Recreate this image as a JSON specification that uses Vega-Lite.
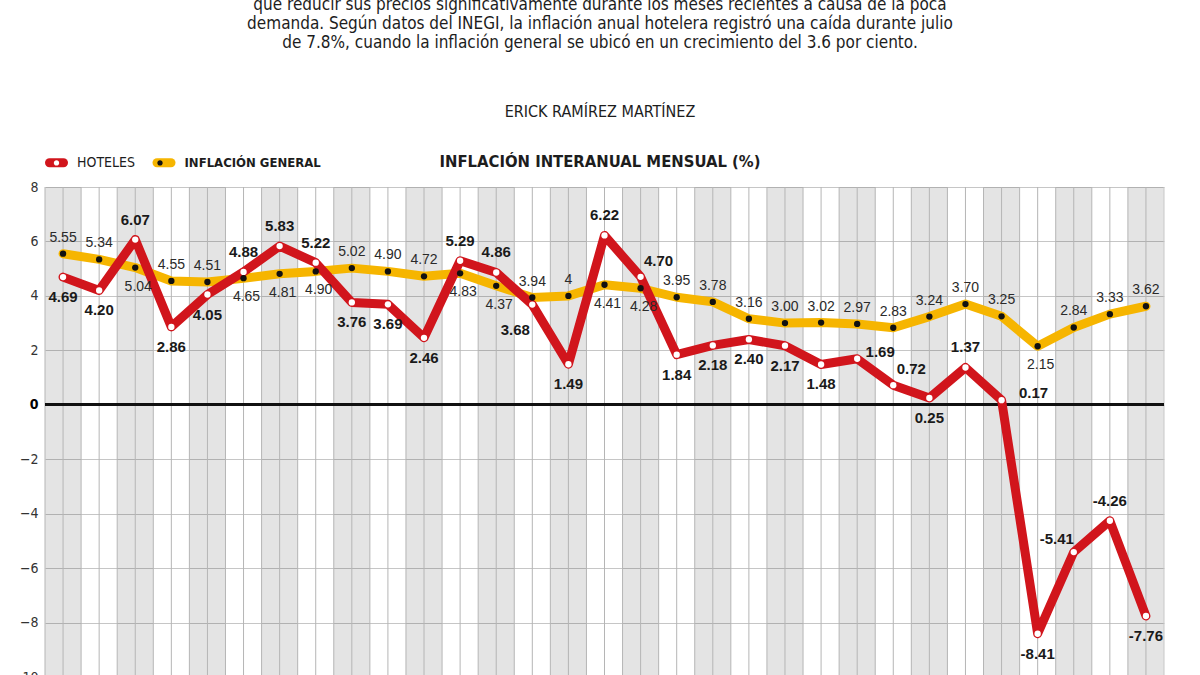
{
  "$schema": "https://vega.github.io/schema/vega-lite/v6.json",
  "width": 1119,
  "height": 490,
  "autosize": {"type": "none"},
  "padding": {"left": 45, "top": 187, "right": 36, "bottom": 0},
  "background": "#ffffff",
  "title": {
    "text": [
      "que reducir sus precios significativamente durante los meses recientes a causa de la poca",
      "demanda. Según datos del INEGI, la inflación anual hotelera registró una caída durante julio",
      "de 7.8%, cuando la inflación general se ubicó en un crecimiento del 3.6 por ciento."
    ],
    "subtitle": "ERICK RAMÍREZ MARTÍNEZ",
    "anchor": "middle",
    "frame": "group",
    "dx": -4.5,
    "offset": 30,
    "font": "DejaVu Sans Condensed",
    "fontSize": 17,
    "fontWeight": "normal",
    "color": "#1d1d1d",
    "lineHeight": 19,
    "subtitleFont": "DejaVu Sans Condensed",
    "subtitleFontSize": 16,
    "subtitleColor": "#1d1d1d",
    "subtitlePadding": 52
  },
  "config": {
    "view": {"stroke": null},
    "axisX": {
      "labels": false, "ticks": false, "domain": false, "grid": false,
      "titleFont": "DejaVu Sans Condensed", "titleFontSize": 16.5, "titleFontWeight": "bold",
      "titleColor": "#1d1d1d", "titleX": 554.5, "titleY": -21, "titleAlign": "center", "titleBaseline": "alphabetic"
    },
    "axisY": {
      "grid": true, "gridColor": "#c6c6c6", "gridWidth": 1, "domain": false, "ticks": false,
      "labelPadding": 7, "labelFont": "DejaVu Sans Condensed", "labelFontSize": 14, "labelColor": "#333333",
      "title": null
    }
  },
  "data": {
    "values": [
      {"mes": "2018-01", "serie": "HOTELES", "valor": 4.69, "texto": "4.69"},
      {"mes": "2018-02", "serie": "HOTELES", "valor": 4.20, "texto": "4.20"},
      {"mes": "2018-03", "serie": "HOTELES", "valor": 6.07, "texto": "6.07"},
      {"mes": "2018-04", "serie": "HOTELES", "valor": 2.86, "texto": "2.86"},
      {"mes": "2018-05", "serie": "HOTELES", "valor": 4.05, "texto": "4.05"},
      {"mes": "2018-06", "serie": "HOTELES", "valor": 4.88, "texto": "4.88"},
      {"mes": "2018-07", "serie": "HOTELES", "valor": 5.83, "texto": "5.83"},
      {"mes": "2018-08", "serie": "HOTELES", "valor": 5.22, "texto": "5.22"},
      {"mes": "2018-09", "serie": "HOTELES", "valor": 3.76, "texto": "3.76"},
      {"mes": "2018-10", "serie": "HOTELES", "valor": 3.69, "texto": "3.69"},
      {"mes": "2018-11", "serie": "HOTELES", "valor": 2.46, "texto": "2.46"},
      {"mes": "2018-12", "serie": "HOTELES", "valor": 5.29, "texto": "5.29"},
      {"mes": "2019-01", "serie": "HOTELES", "valor": 4.86, "texto": "4.86"},
      {"mes": "2019-02", "serie": "HOTELES", "valor": 3.68, "texto": "3.68"},
      {"mes": "2019-03", "serie": "HOTELES", "valor": 1.49, "texto": "1.49"},
      {"mes": "2019-04", "serie": "HOTELES", "valor": 6.22, "texto": "6.22"},
      {"mes": "2019-05", "serie": "HOTELES", "valor": 4.70, "texto": "4.70"},
      {"mes": "2019-06", "serie": "HOTELES", "valor": 1.84, "texto": "1.84"},
      {"mes": "2019-07", "serie": "HOTELES", "valor": 2.18, "texto": "2.18"},
      {"mes": "2019-08", "serie": "HOTELES", "valor": 2.40, "texto": "2.40"},
      {"mes": "2019-09", "serie": "HOTELES", "valor": 2.17, "texto": "2.17"},
      {"mes": "2019-10", "serie": "HOTELES", "valor": 1.48, "texto": "1.48"},
      {"mes": "2019-11", "serie": "HOTELES", "valor": 1.69, "texto": "1.69"},
      {"mes": "2019-12", "serie": "HOTELES", "valor": 0.72, "texto": "0.72"},
      {"mes": "2020-01", "serie": "HOTELES", "valor": 0.25, "texto": "0.25"},
      {"mes": "2020-02", "serie": "HOTELES", "valor": 1.37, "texto": "1.37"},
      {"mes": "2020-03", "serie": "HOTELES", "valor": 0.17, "texto": "0.17"},
      {"mes": "2020-04", "serie": "HOTELES", "valor": -8.41, "texto": "-8.41"},
      {"mes": "2020-05", "serie": "HOTELES", "valor": -5.41, "texto": "-5.41"},
      {"mes": "2020-06", "serie": "HOTELES", "valor": -4.26, "texto": "-4.26"},
      {"mes": "2020-07", "serie": "HOTELES", "valor": -7.76, "texto": "-7.76"},
      {"mes": "2018-01", "serie": "INFLACIÓN GENERAL", "valor": 5.55, "texto": "5.55"},
      {"mes": "2018-02", "serie": "INFLACIÓN GENERAL", "valor": 5.34, "texto": "5.34"},
      {"mes": "2018-03", "serie": "INFLACIÓN GENERAL", "valor": 5.04, "texto": "5.04"},
      {"mes": "2018-04", "serie": "INFLACIÓN GENERAL", "valor": 4.55, "texto": "4.55"},
      {"mes": "2018-05", "serie": "INFLACIÓN GENERAL", "valor": 4.51, "texto": "4.51"},
      {"mes": "2018-06", "serie": "INFLACIÓN GENERAL", "valor": 4.65, "texto": "4.65"},
      {"mes": "2018-07", "serie": "INFLACIÓN GENERAL", "valor": 4.81, "texto": "4.81"},
      {"mes": "2018-08", "serie": "INFLACIÓN GENERAL", "valor": 4.90, "texto": "4.90"},
      {"mes": "2018-09", "serie": "INFLACIÓN GENERAL", "valor": 5.02, "texto": "5.02"},
      {"mes": "2018-10", "serie": "INFLACIÓN GENERAL", "valor": 4.90, "texto": "4.90"},
      {"mes": "2018-11", "serie": "INFLACIÓN GENERAL", "valor": 4.72, "texto": "4.72"},
      {"mes": "2018-12", "serie": "INFLACIÓN GENERAL", "valor": 4.83, "texto": "4.83"},
      {"mes": "2019-01", "serie": "INFLACIÓN GENERAL", "valor": 4.37, "texto": "4.37"},
      {"mes": "2019-02", "serie": "INFLACIÓN GENERAL", "valor": 3.94, "texto": "3.94"},
      {"mes": "2019-03", "serie": "INFLACIÓN GENERAL", "valor": 4.00, "texto": "4"},
      {"mes": "2019-04", "serie": "INFLACIÓN GENERAL", "valor": 4.41, "texto": "4.41"},
      {"mes": "2019-05", "serie": "INFLACIÓN GENERAL", "valor": 4.28, "texto": "4.28"},
      {"mes": "2019-06", "serie": "INFLACIÓN GENERAL", "valor": 3.95, "texto": "3.95"},
      {"mes": "2019-07", "serie": "INFLACIÓN GENERAL", "valor": 3.78, "texto": "3.78"},
      {"mes": "2019-08", "serie": "INFLACIÓN GENERAL", "valor": 3.16, "texto": "3.16"},
      {"mes": "2019-09", "serie": "INFLACIÓN GENERAL", "valor": 3.00, "texto": "3.00"},
      {"mes": "2019-10", "serie": "INFLACIÓN GENERAL", "valor": 3.02, "texto": "3.02"},
      {"mes": "2019-11", "serie": "INFLACIÓN GENERAL", "valor": 2.97, "texto": "2.97"},
      {"mes": "2019-12", "serie": "INFLACIÓN GENERAL", "valor": 2.83, "texto": "2.83"},
      {"mes": "2020-01", "serie": "INFLACIÓN GENERAL", "valor": 3.24, "texto": "3.24"},
      {"mes": "2020-02", "serie": "INFLACIÓN GENERAL", "valor": 3.70, "texto": "3.70"},
      {"mes": "2020-03", "serie": "INFLACIÓN GENERAL", "valor": 3.25, "texto": "3.25"},
      {"mes": "2020-04", "serie": "INFLACIÓN GENERAL", "valor": 2.15, "texto": "2.15"},
      {"mes": "2020-05", "serie": "INFLACIÓN GENERAL", "valor": 2.84, "texto": "2.84"},
      {"mes": "2020-06", "serie": "INFLACIÓN GENERAL", "valor": 3.33, "texto": "3.33"},
      {"mes": "2020-07", "serie": "INFLACIÓN GENERAL", "valor": 3.62, "texto": "3.62"}
    ]
  },
  "layer": [
    {
      "transform": [
        {"filter": {"field": "serie", "equal": "HOTELES"}},
        {"filter": {"field": "mes", "oneOf": ["2018-01","2018-03","2018-05","2018-07","2018-09","2018-11","2019-01","2019-03","2019-05","2019-07","2019-09","2019-11","2020-01","2020-03","2020-05","2020-07"]}}
      ],
      "mark": {"type": "rect", "fill": "#000000", "opacity": 0.106},
      "encoding": {
        "x": {"field": "mes", "type": "ordinal", "scale": {"type": "band", "paddingInner": 0, "paddingOuter": 0}, "axis": {"orient": "top"}, "title": "INFLACIÓN INTERANUAL MENSUAL (%)"}
      }
    },
    {
      "transform": [{"filter": {"field": "serie", "equal": "HOTELES"}}],
      "mark": {"type": "rule", "color": "#b5b5b5", "strokeWidth": 1},
      "encoding": {
        "x": {"field": "mes", "type": "ordinal", "bandPosition": 0, "scale": {"type": "band", "paddingInner": 0, "paddingOuter": 0}, "axis": {"orient": "top"}, "title": "INFLACIÓN INTERANUAL MENSUAL (%)"}
      }
    },
    {
      "transform": [{"filter": {"field": "serie", "equal": "HOTELES"}}],
      "mark": {"type": "rule", "color": "#b5b5b5", "strokeWidth": 1},
      "encoding": {
        "x": {"field": "mes", "type": "ordinal", "bandPosition": 0.5, "scale": {"type": "band", "paddingInner": 0, "paddingOuter": 0}, "axis": {"orient": "top"}, "title": "INFLACIÓN INTERANUAL MENSUAL (%)"}
      }
    },
    {
      "transform": [{"filter": {"field": "serie", "equal": "HOTELES"}}, {"filter": {"field": "mes", "equal": "2020-07"}}],
      "mark": {"type": "rule", "color": "#c8c8c8", "strokeWidth": 1},
      "encoding": {
        "x": {"field": "mes", "type": "ordinal", "bandPosition": 1, "scale": {"type": "band", "paddingInner": 0, "paddingOuter": 0}, "axis": {"orient": "top"}, "title": "INFLACIÓN INTERANUAL MENSUAL (%)"}
      }
    },
    {
      "mark": {"type": "rule", "color": "#111111", "strokeWidth": 2.5},
      "encoding": {
        "y": {"datum": 0, "type": "quantitative", "scale": {"domain": [-10, 8], "nice": false, "zero": false}, "axis": {"values": [-10, -8, -6, -4, -2, 0, 2, 4, 6, 8], "labelFontWeight": {"condition": {"test": "datum.value === 0", "value": "bold"}, "value": "normal"}, "labelColor": {"condition": {"test": "datum.value === 0", "value": "#000000"}, "value": "#333333"}}}
      }
    },
    {
      "transform": [{"filter": {"field": "serie", "equal": "INFLACIÓN GENERAL"}}],
      "mark": {"type": "line", "strokeWidth": 9, "strokeJoin": "round", "strokeCap": "round"},
      "encoding": {
        "x": {"field": "mes", "type": "ordinal", "scale": {"type": "band", "paddingInner": 0, "paddingOuter": 0}, "axis": {"orient": "top"}, "title": "INFLACIÓN INTERANUAL MENSUAL (%)"},
        "y": {"field": "valor", "type": "quantitative"},
        "stroke": {
          "field": "serie", "type": "nominal",
          "scale": {"domain": ["HOTELES", "INFLACIÓN GENERAL"], "range": ["#d1151c", "#f6b500"]},
          "legend": {
            "orient": "none", "legendX": 0, "legendY": -36, "direction": "horizontal", "title": null,
            "symbolType": "stroke", "symbolSize": 196, "symbolStrokeWidth": 9,
            "labelFont": "DejaVu Sans Condensed", "labelFontSize": 14, "labelColor": "#1d1d1d",
            "labelOffset": 9, "columnPadding": 2.5, "padding": 0,
            "encode": {
              "symbols": {"update": {"strokeCap": {"value": "round"}}},
              "labels": {"update": {
                "fontWeight": {"signal": "datum.label === 'HOTELES' ? 'normal' : 'bold'"},
                "fontSize": {"signal": "datum.label === 'HOTELES' ? 14 : 13"}
              }}
            }
          }
        }
      }
    },
    {
      "transform": [{"filter": {"field": "serie", "equal": "HOTELES"}}],
      "mark": {"type": "line", "strokeWidth": 9, "strokeJoin": "round", "strokeCap": "round"},
      "encoding": {
        "x": {"field": "mes", "type": "ordinal", "scale": {"type": "band", "paddingInner": 0, "paddingOuter": 0}, "axis": {"orient": "top"}, "title": "INFLACIÓN INTERANUAL MENSUAL (%)"},
        "y": {"field": "valor", "type": "quantitative"},
        "stroke": {
          "field": "serie", "type": "nominal",
          "scale": {"domain": ["HOTELES", "INFLACIÓN GENERAL"], "range": ["#d1151c", "#f6b500"]},
          "legend": {
            "orient": "none", "legendX": 0, "legendY": -36, "direction": "horizontal", "title": null,
            "symbolType": "stroke", "symbolSize": 196, "symbolStrokeWidth": 9,
            "labelFont": "DejaVu Sans Condensed", "labelFontSize": 14, "labelColor": "#1d1d1d",
            "labelOffset": 9, "columnPadding": 2.5, "padding": 0,
            "encode": {
              "symbols": {"update": {"strokeCap": {"value": "round"}}},
              "labels": {"update": {
                "fontWeight": {"signal": "datum.label === 'HOTELES' ? 'normal' : 'bold'"},
                "fontSize": {"signal": "datum.label === 'HOTELES' ? 14 : 13"}
              }}
            }
          }
        }
      }
    },
    {
      "mark": {"type": "circle", "size": 40, "opacity": 1},
      "encoding": {
        "x": {"field": "mes", "type": "ordinal", "scale": {"type": "band", "paddingInner": 0, "paddingOuter": 0}, "axis": {"orient": "top"}, "title": "INFLACIÓN INTERANUAL MENSUAL (%)"},
        "y": {"field": "valor", "type": "quantitative"},
        "fill": {
          "field": "serie", "type": "nominal",
          "scale": {"range": ["#ffffff", "#111111"]},
          "legend": {
            "orient": "none", "legendX": 0, "legendY": -36, "direction": "horizontal", "title": null,
            "symbolType": "M0.38,0A0.38,0.38,0,1,1,-0.38,0A0.38,0.38,0,1,1,0.38,0Z",
            "symbolSize": 196, "symbolStrokeWidth": 9, "symbolStrokeColor": "transparent",
            "labelFont": "DejaVu Sans Condensed", "labelFontSize": 14, "labelOpacity": 0,
            "labelOffset": 9, "columnPadding": 2.5, "padding": 0,
            "encode": {
              "labels": {"update": {
                "fontWeight": {"signal": "datum.label === 'HOTELES' ? 'normal' : 'bold'"},
                "fontSize": {"signal": "datum.label === 'HOTELES' ? 14 : 13"}
              }}
            }
          }
        }
      }
    },
    {
      "transform": [{"filter": {"field": "serie", "equal": "INFLACIÓN GENERAL"}}, {"filter": {"not": {"field": "mes", "oneOf": ["2018-03","2018-06","2018-07","2018-08","2018-12","2019-01","2019-04","2019-05","2020-04"]}}}],
      "mark": {"type": "text", "dy": -16, "baseline": "middle", "align": "center", "font": "Liberation Sans", "fontSize": 14, "color": "#2a2a2a"},
      "encoding": {
        "x": {"field": "mes", "type": "ordinal", "scale": {"type": "band", "paddingInner": 0, "paddingOuter": 0}, "axis": {"orient": "top"}, "title": "INFLACIÓN INTERANUAL MENSUAL (%)"},
        "y": {"field": "valor", "type": "quantitative"},
        "text": {"field": "texto", "type": "nominal"}
      }
    },
    {
      "transform": [{"filter": {"field": "serie", "equal": "INFLACIÓN GENERAL"}}, {"filter": {"field": "mes", "oneOf": ["2018-03","2018-06","2018-07","2018-08","2018-12","2019-01","2019-04","2019-05","2020-04"]}}],
      "mark": {"type": "text", "dy": 19, "dx": 3, "baseline": "middle", "align": "center", "font": "Liberation Sans", "fontSize": 14, "color": "#2a2a2a"},
      "encoding": {
        "x": {"field": "mes", "type": "ordinal", "scale": {"type": "band", "paddingInner": 0, "paddingOuter": 0}, "axis": {"orient": "top"}, "title": "INFLACIÓN INTERANUAL MENSUAL (%)"},
        "y": {"field": "valor", "type": "quantitative"},
        "text": {"field": "texto", "type": "nominal"}
      }
    },
    {
      "transform": [{"filter": {"field": "serie", "equal": "HOTELES"}}, {"filter": {"field": "mes", "oneOf": ["2018-03","2018-06","2018-07","2018-08","2018-12","2019-01","2019-04","2020-02","2020-06"]}}],
      "mark": {"type": "text", "dy": -20, "baseline": "middle", "align": "center", "font": "Liberation Sans", "fontSize": 15, "fontWeight": "bold", "color": "#1a1a1a"},
      "encoding": {
        "x": {"field": "mes", "type": "ordinal", "scale": {"type": "band", "paddingInner": 0, "paddingOuter": 0}, "axis": {"orient": "top"}, "title": "INFLACIÓN INTERANUAL MENSUAL (%)"},
        "y": {"field": "valor", "type": "quantitative"},
        "text": {"field": "texto", "type": "nominal"}
      }
    },
    {
      "transform": [{"filter": {"field": "serie", "equal": "HOTELES"}}, {"filter": {"field": "mes", "oneOf": ["2018-01","2018-02","2018-04","2018-05","2018-09","2018-10","2018-11","2019-03","2019-06","2019-07","2019-08","2019-09","2019-10","2020-01","2020-04","2020-07"]}}],
      "mark": {"type": "text", "dy": 20, "baseline": "middle", "align": "center", "font": "Liberation Sans", "fontSize": 15, "fontWeight": "bold", "color": "#1a1a1a"},
      "encoding": {
        "x": {"field": "mes", "type": "ordinal", "scale": {"type": "band", "paddingInner": 0, "paddingOuter": 0}, "axis": {"orient": "top"}, "title": "INFLACIÓN INTERANUAL MENSUAL (%)"},
        "y": {"field": "valor", "type": "quantitative"},
        "text": {"field": "texto", "type": "nominal"}
      }
    },
    {
      "transform": [{"filter": {"field": "serie", "equal": "HOTELES"}}, {"filter": {"field": "mes", "oneOf": ["2019-02"]}}],
      "mark": {"type": "text", "dy": 25, "dx": -17, "baseline": "middle", "align": "center", "font": "Liberation Sans", "fontSize": 15, "fontWeight": "bold", "color": "#1a1a1a"},
      "encoding": {
        "x": {"field": "mes", "type": "ordinal", "scale": {"type": "band", "paddingInner": 0, "paddingOuter": 0}, "axis": {"orient": "top"}, "title": "INFLACIÓN INTERANUAL MENSUAL (%)"},
        "y": {"field": "valor", "type": "quantitative"},
        "text": {"field": "texto", "type": "nominal"}
      }
    },
    {
      "transform": [{"filter": {"field": "serie", "equal": "HOTELES"}}, {"filter": {"field": "mes", "oneOf": ["2019-05", "2019-12"]}}],
      "mark": {"type": "text", "dy": -16, "dx": 18, "baseline": "middle", "align": "center", "font": "Liberation Sans", "fontSize": 15, "fontWeight": "bold", "color": "#1a1a1a"},
      "encoding": {
        "x": {"field": "mes", "type": "ordinal", "scale": {"type": "band", "paddingInner": 0, "paddingOuter": 0}, "axis": {"orient": "top"}, "title": "INFLACIÓN INTERANUAL MENSUAL (%)"},
        "y": {"field": "valor", "type": "quantitative"},
        "text": {"field": "texto", "type": "nominal"}
      }
    },
    {
      "transform": [{"filter": {"field": "serie", "equal": "HOTELES"}}, {"filter": {"field": "mes", "oneOf": ["2019-11"]}}],
      "mark": {"type": "text", "dy": -7, "dx": 23, "baseline": "middle", "align": "center", "font": "Liberation Sans", "fontSize": 15, "fontWeight": "bold", "color": "#1a1a1a"},
      "encoding": {
        "x": {"field": "mes", "type": "ordinal", "scale": {"type": "band", "paddingInner": 0, "paddingOuter": 0}, "axis": {"orient": "top"}, "title": "INFLACIÓN INTERANUAL MENSUAL (%)"},
        "y": {"field": "valor", "type": "quantitative"},
        "text": {"field": "texto", "type": "nominal"}
      }
    },
    {
      "transform": [{"filter": {"field": "serie", "equal": "HOTELES"}}, {"filter": {"field": "mes", "oneOf": ["2020-03"]}}],
      "mark": {"type": "text", "dy": -7, "dx": 32, "baseline": "middle", "align": "center", "font": "Liberation Sans", "fontSize": 15, "fontWeight": "bold", "color": "#1a1a1a"},
      "encoding": {
        "x": {"field": "mes", "type": "ordinal", "scale": {"type": "band", "paddingInner": 0, "paddingOuter": 0}, "axis": {"orient": "top"}, "title": "INFLACIÓN INTERANUAL MENSUAL (%)"},
        "y": {"field": "valor", "type": "quantitative"},
        "text": {"field": "texto", "type": "nominal"}
      }
    },
    {
      "transform": [{"filter": {"field": "serie", "equal": "HOTELES"}}, {"filter": {"field": "mes", "oneOf": ["2020-05"]}}],
      "mark": {"type": "text", "dy": -13, "dx": -17, "baseline": "middle", "align": "center", "font": "Liberation Sans", "fontSize": 15, "fontWeight": "bold", "color": "#1a1a1a"},
      "encoding": {
        "x": {"field": "mes", "type": "ordinal", "scale": {"type": "band", "paddingInner": 0, "paddingOuter": 0}, "axis": {"orient": "top"}, "title": "INFLACIÓN INTERANUAL MENSUAL (%)"},
        "y": {"field": "valor", "type": "quantitative"},
        "text": {"field": "texto", "type": "nominal"}
      }
    }
  ]
}
